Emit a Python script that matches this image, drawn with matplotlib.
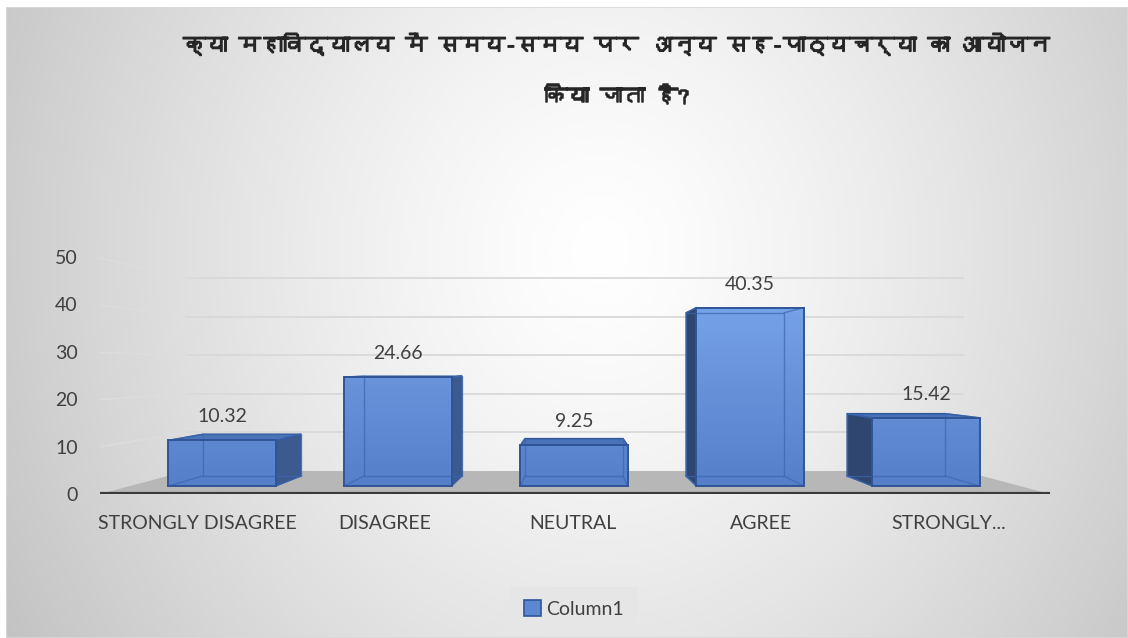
import numpy as np
import matplotlib
matplotlib.use("Agg")
import matplotlib.pyplot as plt
from matplotlib import font_manager
from matplotlib.ft2font import FT2Font
from matplotlib.patches import Polygon, Rectangle
import matplotlib.patheffects as pe

# ---------------- data ----------------
categories = ["STRONGLY DISAGREE", "DISAGREE", "NEUTRAL", "AGREE", "STRONGLY AGREE"]
tick_labels = ["STRONGLY DISAGREE", "DISAGREE", "NEUTRAL", "AGREE", "STRONGLY..."]
values = [10.32, 24.66, 9.25, 40.35, 15.42]
series_name = "Column1"
y_ticks = [0, 10, 20, 30, 40, 50]
title_lines = ["क्या महाविद्यालय में समय-समय पर अन्य सह-पाठ्यचर्या का आयोजन",
               "किया जाता है?"]

# ---------------- fonts ----------------
def find_family(char):
    seen = set()
    for f in font_manager.fontManager.ttflist:
        if f.fname in seen:
            continue
        seen.add(f.fname)
        try:
            if ord(char) in FT2Font(f.fname).get_charmap():
                return f.name
        except Exception:
            pass
    return None

deva = find_family("क")
latin = "Lato"
plt.rcParams["font.family"] = [latin, "DejaVu Sans"]
title_family = ([deva] if deva else []) + [latin, "DejaVu Sans"]

# ---------------- geometry (pixels) ----------------
W, H = 1128, 638
PL, PR, PT, PB = 100, 1050, 257, 494
BAR0_PX, BAR_STEP_PX = 222, 176
BAR_BASE_PX, PX_PER_UNIT = 486, 4.42
LAB0_PX, LAB_STEP_PX = 197, 188
VP_Y_PX = 368
S_AXIS = (PB - VP_Y_PX) / (BAR_BASE_PX - VP_Y_PX)
S_BACK = 0.915
S_WALL = (471 - VP_Y_PX) / (BAR_BASE_PX - VP_Y_PX)
BAR_W = 0.608

TEXT = "#404040"
EDGE = "#2f5597"

fig = plt.figure(figsize=(W / 100, H / 100), dpi=100)
fig.patch.set_facecolor("white")

def frect(x0, y0, x1, y1):
    return [x0 / W, 1 - y1 / H, (x1 - x0) / W, (y1 - y0) / H]

# background gradient
bg = fig.add_axes(frect(6, 7, W, H), zorder=0)
bg.axis("off")
yy, xx = np.mgrid[7:H, 6:W]
r = np.sqrt(((xx - 600) / 720.0) ** 2 + ((yy - 250) / 800.0) ** 2)
v = 1.0 - 0.25 * np.clip(r, 0, 1.4) ** 1.3
bg.imshow(np.dstack([v, v, v]), aspect="auto", extent=(0, 1, 0, 1),
          interpolation="bilinear")
bg.set_xlim(0, 1); bg.set_ylim(0, 1)
bg.add_patch(Rectangle((0, 0), 1, 1, transform=bg.transAxes, fill=False,
                       edgecolor="#d9d9d9", lw=1.2))

# tick axes (axis plane)
axt = fig.add_axes(frect(PL, PT, PR, PB), zorder=1)
axt.set_facecolor("none")
axt.set_xlim((PL - LAB0_PX) / LAB_STEP_PX, (PR - LAB0_PX) / LAB_STEP_PX)
axt.set_ylim(y_ticks[0], y_ticks[-1])
axt.set_xticks(range(len(tick_labels)))
axt.set_xticklabels(tick_labels)
axt.set_yticks(y_ticks)
for s in axt.spines.values():
    s.set_visible(False)
axt.tick_params(length=0, labelsize=14, colors=TEXT)
axt.tick_params(axis="y", pad=16)
axt.tick_params(axis="x", pad=15)

# drawing axes (front plane of bars)
ax = fig.add_axes(frect(PL, PT, PR, PB), zorder=2)
ax.set_facecolor("none")
xl = (PL - BAR0_PX) / BAR_STEP_PX
xr = (PR - BAR0_PX) / BAR_STEP_PX
yb = (BAR_BASE_PX - PB) / PX_PER_UNIT
yt = (BAR_BASE_PX - PT) / PX_PER_UNIT
ax.axis("off")

vx = (574 - BAR0_PX) / BAR_STEP_PX
vy = (BAR_BASE_PX - VP_Y_PX) / PX_PER_UNIT

def persp(p, s):
    return (vx + s * (p[0] - vx), vy + s * (p[1] - vy))

k_wall = S_WALL / S_AXIS
# floor
fl_front_l, fl_front_r = (xl, yb), (xr, yb)
floor = [fl_front_l, fl_front_r, persp(fl_front_r, k_wall), persp(fl_front_l, k_wall)]
ax.add_patch(Polygon(floor, closed=True, facecolor="#b7b7b7", edgecolor="none", zorder=1))

# wall gridlines
for t in y_ticks[1:]:
    pa = (xl, vy + S_AXIS * (t - vy))
    pw = persp(pa, k_wall)
    pr_ = (vx + k_wall * (xr - vx), pw[1])
    ax.plot([pa[0], pw[0]], [pa[1], pw[1]], color="#dedede", lw=1.2, zorder=1, alpha=0.8)
    ax.plot([pw[0], pr_[0]], [pw[1], pr_[1]], color="#d9d9d9", lw=1.3, zorder=1)

# baseline
ax.plot([xl, xr], [yb, yb], color="#3a3a3a", lw=3, zorder=2, solid_capstyle="butt")

# bars
x = np.arange(len(values))
bars = ax.bar(x, values, width=BAR_W, color="#5b87d3", edgecolor="none", zorder=4)
grad = np.linspace(0, 1, 256).reshape(-1, 1)
c0 = np.array([0x55, 0x7f, 0xc9]) / 255.0
c1 = np.array([0x7a, 0xa6, 0xec]) / 255.0
gimg = c0[None, None, :] * (1 - grad[:, :, None]) + c1[None, None, :] * grad[:, :, None]
for b in bars:
    im = ax.imshow(gimg, extent=(xl, xr, 0, 45), origin="lower", aspect="auto",
                   zorder=4.1, interpolation="bilinear")
    im.set_clip_path(b)
ax.set_xlim(xl, xr)
ax.set_ylim(yb, yt)

for xi, h in zip(x, values):
    l, rr = xi - BAR_W / 2, xi + BAR_W / 2
    F = [(l, 0), (rr, 0), (rr, h), (l, h)]
    B = [persp(p, S_BACK) for p in F]
    if rr < vx:
        ax.add_patch(Polygon([F[1], B[1], B[2], F[2]], facecolor="#3c5a8e",
                             edgecolor=EDGE, lw=1, zorder=3))
    if l > vx:
        ax.add_patch(Polygon([F[0], B[0], B[3], F[3]], facecolor="#2f4670",
                             edgecolor=EDGE, lw=1, zorder=3))
    if h < vy:
        ax.add_patch(Polygon([F[3], F[2], B[2], B[3]], facecolor="#4b73ba",
                             edgecolor=EDGE, lw=1, zorder=3))
    # inner (see-through) back edges
    bx = [p[0] for p in B] + [B[0][0]]
    by = [p[1] for p in B] + [B[0][1]]
    ax.plot(bx, by, color="#3c66b0", lw=1, alpha=0.7, zorder=5)
    for fp, bp in zip(F, B):
        ax.plot([fp[0], bp[0]], [fp[1], bp[1]], color="#3c66b0", lw=1, alpha=0.7, zorder=5)
    ax.add_patch(Rectangle((l, 0), BAR_W, h, fill=False, edgecolor=EDGE, lw=1.4, zorder=6))
    ax.annotate(f"{h:.2f}", (xi, h), xytext=(0, 17), textcoords="offset points",
                ha="center", va="center", fontsize=14, color=TEXT, zorder=7)

# title
bold_fx = [pe.withStroke(linewidth=1.1, foreground="#262626")]
for line, ypx in zip(title_lines, (45, 97)):
    fig.text(617 / W, 1 - ypx / H, line, ha="center", va="center", fontsize=16,
             fontweight="bold", family=title_family, color="#262626",
             path_effects=bold_fx)

# legend
handle = Rectangle((0, 0), 1, 1, facecolor="#5b87d3", edgecolor=EDGE, lw=1.2)
leg = fig.legend([handle], [series_name], loc="center",
                 bbox_to_anchor=(574 / W, 1 - 609 / H), frameon=True, fancybox=False,
                 facecolor="#e6e6e6", edgecolor="none", framealpha=1,
                 handlelength=0.85, handleheight=0.85, handletextpad=0.3,
                 borderpad=0.7, fontsize=14, labelcolor=TEXT)
leg.set_zorder(10)

fig.savefig("out.png", dpi=100)
